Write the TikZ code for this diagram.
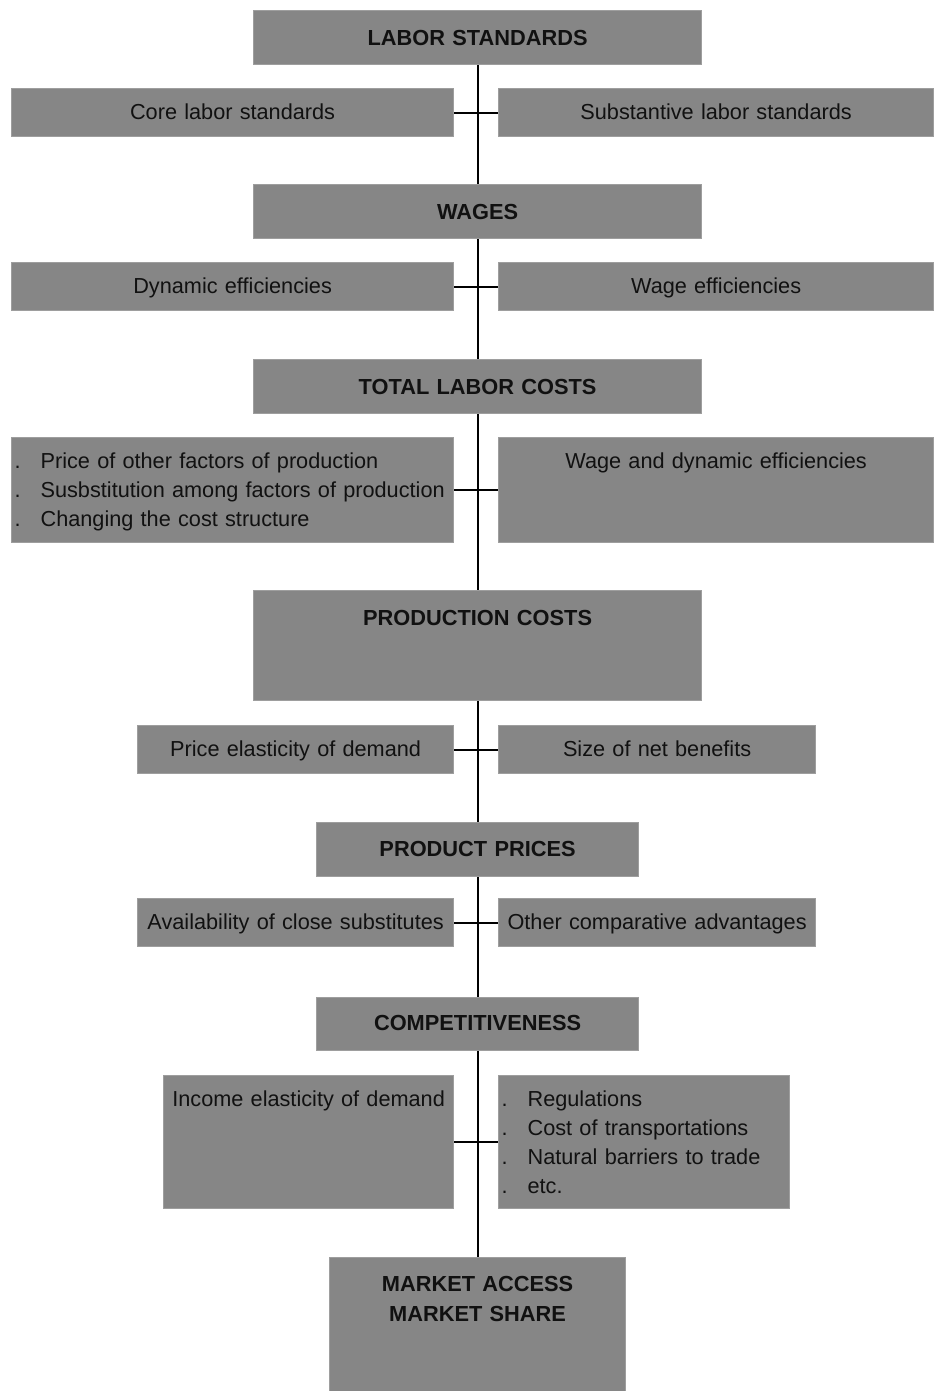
\documentclass[tikz,border=0pt]{standalone}
\usepackage{fontspec}
\setmainfont{Liberation Sans}
\definecolor{boxfill}{RGB}{134,134,134}
\definecolor{boxline}{RGB}{158,158,158}
\definecolor{ink}{RGB}{17,17,17}
\newcommand{\listdot}{\makebox[13pt][l]{.}}
\tikzset{
  box/.style={fill=boxfill, draw=boxline, line width=0.6pt, anchor=north west,
    inner sep=0pt, align=center, text=ink, font=\fontsize{10.85}{14.5}\selectfont},
  headbox/.style={box, font=\fontsize{10.9}{14.8}\selectfont\bfseries},
  listbox/.style={box, align=left, inner xsep=1.5pt},
  link/.style={line width=1pt},
}
\begin{document}
\begin{tikzpicture}[x=1pt,y=-1pt]
\useasboundingbox (0,0) rectangle (466.5,695.5);

% main chain
\node[headbox, text width=224pt, text height=17.5pt, text depth=9.5pt] (labor) at (126.5,5) {LABOR STANDARDS};
\node[headbox, text width=224pt, text height=17.5pt, text depth=9.5pt] (wages) at (126.5,92) {WAGES};
\node[headbox, text width=224pt, text height=17.5pt, text depth=9.5pt] (total) at (126.5,179.5) {TOTAL LABOR COSTS};
\node[headbox, text width=224pt, text height=17.5pt, text depth=37.5pt] (prodcost) at (126.5,295) {PRODUCTION COSTS};
\node[headbox, text width=161pt, text height=17pt, text depth=10pt] (prodprice) at (158,411) {PRODUCT PRICES};
\node[headbox, text width=161pt, text height=16.5pt, text depth=10pt] (compet) at (158,498.5) {COMPETITIVENESS};
\node[headbox, text width=148pt, text height=17pt, text depth=50pt] (market) at (164.5,628.5) {MARKET ACCESS\\MARKET SHARE};

% side factors
\node[box, text width=221pt, text height=15.5pt, text depth=8.5pt] (core) at (5.5,44) {Core labor standards};
\node[box, text width=217.5pt, text height=15.5pt, text depth=8.5pt] (subst) at (249,44) {Substantive labor standards};
\node[box, text width=221pt, text height=15.5pt, text depth=8.5pt] (dyneff) at (5.5,131) {Dynamic efficiencies};
\node[box, text width=217.5pt, text height=15.5pt, text depth=8.5pt] (wageeff) at (249,131) {Wage efficiencies};
\node[listbox, text width=218pt, text height=15.5pt, text depth=37pt] (factors) at (5.5,218.5)
  {\listdot Price of other factors of production\\\listdot Susbstitution among factors of production\\\listdot Changing the cost structure};
\node[box, text width=217.5pt, text height=15.5pt, text depth=37pt] (wagedyn) at (249,218.5) {Wage and dynamic efficiencies};
\node[box, text width=158pt, text height=15.5pt, text depth=8.5pt] (priceel) at (68.5,362.5) {Price elasticity of demand};
\node[box, text width=158.5pt, text height=15.5pt, text depth=8.5pt] (netben) at (249,362.5) {Size of net benefits};
\node[box, text width=158pt, text height=15.5pt, text depth=8.5pt] (avail) at (68.5,449) {Availability of close substitutes};
\node[box, text width=158.5pt, text height=15.5pt, text depth=8.5pt] (othercomp) at (249,449) {Other comparative advantages};
\node[box, text width=145pt, text height=15.5pt, text depth=51pt] (income) at (81.5,537.5) {Income elasticity of demand};
\node[listbox, text width=142.5pt, text height=15.5pt, text depth=51pt] (regul) at (249,537.5)
  {\listdot Regulations\\\listdot Cost of transportations\\\listdot Natural barriers to trade\\\listdot etc.};

% connectors
\foreach \a/\b in {labor/wages, wages/total, total/prodcost, prodcost/prodprice,
  prodprice/compet, compet/market}
  \draw[link] (\a) -- (\b);
\foreach \a/\b in {core/subst, dyneff/wageeff, factors/wagedyn, priceel/netben,
  avail/othercomp, income/regul}
  \draw[link] (\a) -- (\b);
\end{tikzpicture}
\end{document}
